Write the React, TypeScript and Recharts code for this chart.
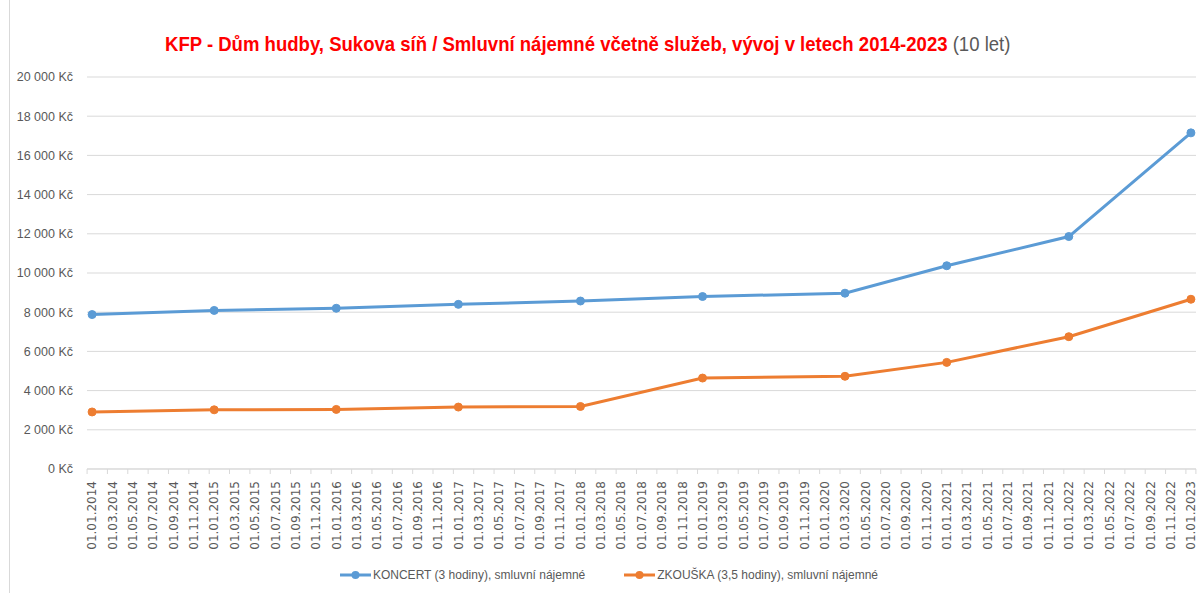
import React from 'react';
import { LineChart, Line, XAxis, YAxis, CartesianGrid, Legend } from 'recharts';

// months counted from 01.01.2014
const pointMonths = [0, 12, 24, 36, 48, 60, 74, 84, 96, 108];
const koncert = [7880, 8090, 8200, 8400, 8570, 8800, 8970, 10370, 11860, 17150];
const zkouska = [2910, 3020, 3040, 3160, 3190, 4640, 4730, 5440, 6750, 8660];

const tickYears = [2014, 2015, 2016, 2017, 2018, 2019, 2020, 2021, 2022, 2023];
const tickMonths = ['01', '03', '05', '07', '09', '11'];
const yTicks = [0, 2000, 4000, 6000, 8000, 10000, 12000, 14000, 16000, 18000, 20000];

const seriesNames = {
  koncert: 'KONCERT (3 hodiny), smluvní nájemné',
  zkouska: 'ZKOUŠKA (3,5 hodiny), smluvní nájemné',
};

const data = pointMonths.map((m, i) => ({ m, koncert: koncert[i], zkouska: zkouska[i] }));

const xTicks: number[] = [];
const xLabels: Record<number, string> = {};
tickYears.forEach((year, yi) => {
  tickMonths.forEach((mm, mi) => {
    const idx = yi * 12 + mi * 2;
    if (idx <= 108) {
      xTicks.push(idx);
      xLabels[idx] = `01.${mm}.${year}`;
    }
  });
});

const fmtKc = (v: number) => `${String(v).replace(/\B(?=(\d{3})+(?!\d))/g, ' ')} Kč`;

const gray = '#595959';
const gridColor = '#d9d9d9';
const sans = '"Liberation Sans", Arial, sans-serif';

const DateTick = (props: any) => {
  const { x, y, payload } = props;
  const last = payload.value === 108;
  return (
    <g>
      <line x1={x - 5} x2={x - 5} y1={469} y2={474} stroke={gridColor} />
      {last && <line x1={x + 5} x2={x + 5} y1={469} y2={474} stroke={gridColor} />}
      <text
        x={x}
        y={y + 4}
        transform={`rotate(-90 ${x} ${y + 4})`}
        textAnchor="end"
        dy="0.36em"
        fill={gray}
        fontSize={12}
        fontFamily="DejaVu Sans"
      >
        {xLabels[payload.value]}
      </text>
    </g>
  );
};

const LegendContent = (props: any) => {
  const { payload } = props;
  return (
    <div style={{ height: 20, display: 'flex', justifyContent: 'center', alignItems: 'center', gap: 39, paddingLeft: 22 }}>
      {(payload || []).map((entry: any) => (
        <div key={entry.value} style={{ display: 'flex', alignItems: 'center' }}>
          <svg width={31} height={10} style={{ marginRight: 2 }}>
            <line x1={0} x2={31} y1={5} y2={5} stroke={entry.color} strokeWidth={3} />
            <circle cx={15.5} cy={5} r={4} fill={entry.color} />
          </svg>
          <span style={{ fontFamily: sans, fontSize: 12, color: gray }}>{entry.value}</span>
        </div>
      ))}
    </div>
  );
};

export default function App() {
  return (
    <div style={{ position: 'absolute', left: 0, top: 0, width: 1203, height: 593, background: '#fff' }}>
      <div style={{ position: 'absolute', left: 9, top: 0, width: 1, height: 593, background: gridColor }} />
      <div
        style={{
          position: 'absolute',
          left: 165,
          top: 32,
          fontFamily: sans,
          fontSize: 21,
          whiteSpace: 'nowrap',
          transform: 'scaleX(0.883)',
          transformOrigin: 'left center',
        }}
      >
        <span style={{ color: '#ff0000', fontWeight: 'bold' }}>
          KFP - Dům hudby, Sukova síň / Smluvní nájemné včetně služeb, vývoj v letech 2014-2023
        </span>
        <span style={{ color: gray }}> (10 let)</span>
      </div>
      <LineChart width={1203} height={593} data={data} margin={{ top: 77, right: 7, left: 0, bottom: 8 }}>
        <CartesianGrid vertical={false} stroke={gridColor} />
        <XAxis
          type="number"
          dataKey="m"
          domain={[-0.5, 108.5]}
          ticks={xTicks}
          interval={0}
          tick={<DateTick />}
          tickLine={false}
          axisLine={{ stroke: gridColor }}
          height={96}
          allowDataOverflow
        />
        <YAxis
          domain={[0, 20000]}
          ticks={yTicks}
          tickFormatter={fmtKc}
          axisLine={false}
          tickLine={false}
          tickSize={0}
          tickMargin={14}
          width={87}
          tick={{ fill: gray, fontSize: 12.5, fontFamily: sans }}
        />
        <Legend verticalAlign="bottom" content={<LegendContent />} />
        <Line
          dataKey="koncert"
          name={seriesNames.koncert}
          stroke="#5b9bd5"
          strokeWidth={3}
          dot={{ r: 4, fill: '#5b9bd5', stroke: '#5b9bd5', strokeWidth: 1 }}
          isAnimationActive={false}
        />
        <Line
          dataKey="zkouska"
          name={seriesNames.zkouska}
          stroke="#ed7d31"
          strokeWidth={3}
          dot={{ r: 4, fill: '#ed7d31', stroke: '#ed7d31', strokeWidth: 1 }}
          isAnimationActive={false}
        />
      </LineChart>
    </div>
  );
}
